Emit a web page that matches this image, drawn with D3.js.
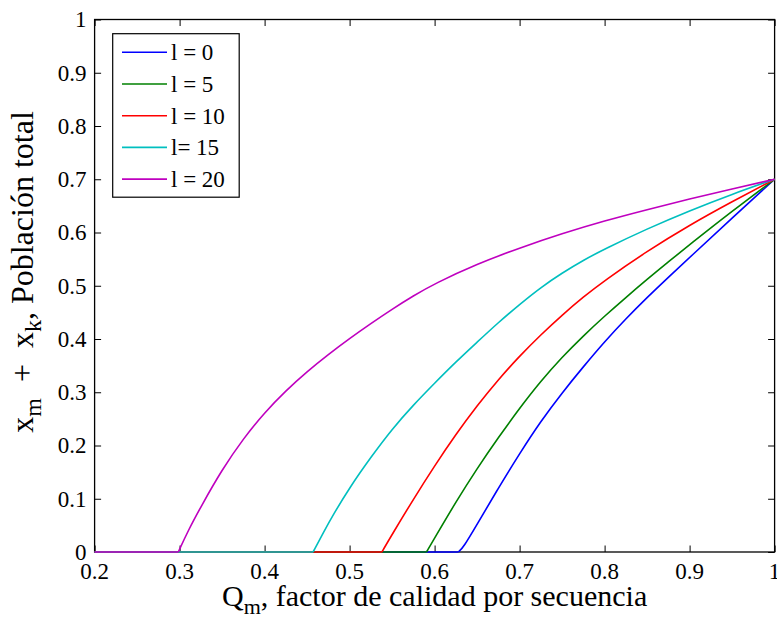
<!DOCTYPE html>
<html>
<head>
<meta charset="utf-8">
<script src="https://cdn.jsdelivr.net/npm/d3@7"></script>
<style>
  html, body { margin: 0; padding: 0; background: #fff; }
  svg { display: block; }
  svg text { font-family: "Liberation Serif", "Times New Roman", Times, serif; }
</style>
</head>
<body>
<svg id="chart" width="777" height="618"></svg>
<script>
// ---------- data ----------
const seriesNames = ["l = 0", "l = 5", "l = 10", "l= 15", "l = 20"];
const seriesColors = ["#0000ff", "#008000", "#ff0000", "#00bfbf", "#bf00bf"];

const qL0  = [0.2, 0.628, 0.634, 0.65, 0.675, 0.7, 0.725, 0.75, 0.775, 0.8, 0.825, 0.85, 0.875, 0.9, 0.95, 1.0];
const vL0  = [0,   0,     0.009, 0.052, 0.12, 0.185, 0.246, 0.299, 0.348, 0.395, 0.438, 0.478, 0.516, 0.553, 0.627, 0.7];

const qL5  = [0.2, 0.5905, 0.6, 0.625, 0.65, 0.675, 0.7, 0.725, 0.75, 0.775, 0.8, 0.825, 0.85, 0.875, 0.9, 0.95, 1.0];
const vL5  = [0,   0,      0.026, 0.094, 0.157, 0.215, 0.27, 0.321, 0.366, 0.406, 0.443, 0.478, 0.512, 0.545, 0.577, 0.640, 0.7];

const qL10 = [0.2, 0.538, 0.55, 0.575, 0.6, 0.625, 0.65, 0.675, 0.7, 0.725, 0.75, 0.775, 0.8, 0.85, 0.9, 0.95, 1.0];
const vL10 = [0,   0,     0.033, 0.099, 0.162, 0.221, 0.275, 0.324, 0.368, 0.408, 0.445, 0.479, 0.510, 0.565, 0.614, 0.658, 0.7];

const qL15 = [0.2, 0.457, 0.47, 0.48, 0.5, 0.525, 0.55, 0.575, 0.6, 0.625, 0.65, 0.675, 0.7, 0.725, 0.75, 0.775, 0.8, 0.85, 0.9, 0.95, 1.0];
const vL15 = [0,   0,     0.039, 0.068, 0.121, 0.178, 0.231, 0.276, 0.317, 0.357, 0.394, 0.431, 0.465, 0.497, 0.524, 0.548, 0.569, 0.607, 0.641, 0.672, 0.7];

const qL20 = [0.2, 0.2985, 0.31, 0.325, 0.35, 0.375, 0.4, 0.425, 0.45, 0.475, 0.5, 0.525, 0.55, 0.575, 0.6, 0.65, 0.7, 0.75, 0.8, 0.85, 0.9, 0.95, 1.0];
const vL20 = [0,   0,      0.04, 0.085, 0.155, 0.213, 0.262, 0.303, 0.339, 0.371, 0.401, 0.429, 0.456, 0.481, 0.504, 0.541, 0.571, 0.598, 0.622, 0.643, 0.663, 0.682, 0.7];

const xTicks = [0.2, 0.3, 0.4, 0.5, 0.6, 0.7, 0.8, 0.9, 1];
const xTickLabels = ["0.2", "0.3", "0.4", "0.5", "0.6", "0.7", "0.8", "0.9", "1"];
const yTicks = [0, 0.1, 0.2, 0.3, 0.4, 0.5, 0.6, 0.7, 0.8, 0.9, 1];
const yTickLabels = ["0", "0.1", "0.2", "0.3", "0.4", "0.5", "0.6", "0.7", "0.8", "0.9", "1"];

const seriesQ = [qL0, qL5, qL10, qL15, qL20];
const seriesV = [vL0, vL5, vL10, vL15, vL20];

// ---------- layout ----------
const W = 777, H = 618;
const FONT = '"Liberation Serif", "Times New Roman", Times, serif';
const plot = { left: 94.6, right: 774.6, top: 19.5, bottom: 552 };

const svg = d3.select("#chart");
const x = d3.scaleLinear().domain([0.2, 1]).range([plot.left, plot.right]);
const y = d3.scaleLinear().domain([0, 1]).range([plot.bottom, plot.top]);

svg.append("rect").attr("width", W).attr("height", H).attr("fill", "#fff");

const tickLen = 6.5;

// axes (inward ticks, box on); labels drawn separately
const gx = svg.append("g").attr("transform", `translate(0,${plot.bottom})`)
  .call(d3.axisBottom(x).tickValues(xTicks).tickFormat("").tickSizeInner(-tickLen).tickSizeOuter(0));
const gxt = svg.append("g").attr("transform", `translate(0,${plot.top})`)
  .call(d3.axisTop(x).tickValues(xTicks).tickFormat("").tickSizeInner(-tickLen).tickSizeOuter(0));
const gy = svg.append("g").attr("transform", `translate(${plot.left},0)`)
  .call(d3.axisLeft(y).tickValues(yTicks).tickFormat("").tickSizeInner(-tickLen).tickSizeOuter(0));
const gyr = svg.append("g").attr("transform", `translate(${plot.right},0)`)
  .call(d3.axisRight(y).tickValues(yTicks).tickFormat("").tickSizeInner(-tickLen).tickSizeOuter(0));

[gx, gxt, gy, gyr].forEach(g => {
  g.select(".domain").remove();
  g.selectAll(".tick text").remove();
  g.selectAll(".tick line").attr("stroke", "#000").attr("stroke-width", 1);
});

const gTickLab = svg.append("g");
gTickLab.selectAll("text.xt").data(xTicks).join("text")
  .attr("class", "xt")
  .attr("x", d => x(d)).attr("y", plot.bottom + 27)
  .attr("text-anchor", "middle")
  .attr("font-family", FONT).attr("font-size", 23).attr("fill", "#000")
  .text((d, i) => xTickLabels[i]);
gTickLab.selectAll("text.yt").data(yTicks).join("text")
  .attr("class", "yt")
  .attr("x", plot.left - 8).attr("y", d => y(d) + 7.8)
  .attr("text-anchor", "end")
  .attr("font-family", FONT).attr("font-size", 23).attr("fill", "#000")
  .text((d, i) => yTickLabels[i]);

svg.append("rect")
  .attr("x", plot.left).attr("y", plot.top)
  .attr("width", plot.right - plot.left).attr("height", plot.bottom - plot.top)
  .attr("fill", "none").attr("stroke", "#000").attr("stroke-width", 1.3);

// ---------- series ----------
// flat zero part drawn straight, rising part as a smooth spline starting at the threshold
const flatLine = d3.line().x(d => x(d[0])).y(d => y(d[1]));
const riseLine = d3.line().x(d => x(d[0])).y(d => y(d[1])).curve(d3.curveBasis);
const gLines = svg.append("g");
seriesQ.forEach((qs, i) => {
  const pts = qs.map((q, j) => [q, seriesV[i][j]]);
  const flat = pts.slice(0, 2);
  const rise = pts.slice(1);
  const g = gLines.append("g")
    .attr("fill", "none")
    .attr("stroke", seriesColors[i])
    .attr("stroke-width", 1.6)
    .attr("stroke-linejoin", "round");
  g.append("path").attr("d", flatLine(flat));
  g.append("path").attr("d", riseLine(rise));
});

// ---------- legend ----------
const lg = { x: 112.7, y: 33.7, w: 126.5, h: 163.5, row0: 52.3, rowStep: 31.7 };
const gl = svg.append("g");
gl.append("rect").attr("x", lg.x).attr("y", lg.y).attr("width", lg.w).attr("height", lg.h)
  .attr("fill", "#fff").attr("stroke", "#000").attr("stroke-width", 1.2);
seriesNames.forEach((name, i) => {
  const yy = lg.row0 + i * lg.rowStep;
  gl.append("line").attr("x1", 122).attr("x2", 167).attr("y1", yy).attr("y2", yy)
    .attr("stroke", seriesColors[i]).attr("stroke-width", 1.6);
  gl.append("text").attr("x", 171).attr("y", yy + 8)
    .attr("font-family", FONT).attr("font-size", 23).attr("fill", "#000").text(name);
});

// ---------- axis labels ----------
const xl = svg.append("text").attr("x", (plot.left + plot.right) / 2).attr("y", 606)
  .attr("text-anchor", "middle").attr("font-family", FONT).attr("font-size", 30);
xl.append("tspan").text("Q");
xl.append("tspan").attr("font-size", 22).attr("dy", 8).text("m");
xl.append("tspan").attr("dy", -8).text(", factor de calidad por secuencia");

const yl = svg.append("text").attr("transform", `translate(33,272) rotate(-90)`)
  .attr("text-anchor", "middle").attr("font-family", FONT).attr("font-size", 32);
yl.append("tspan").text("x");
yl.append("tspan").attr("font-size", 24).attr("dy", 8).text("m");
yl.append("tspan").attr("dy", -8).text("\u2002+\u2002x");
yl.append("tspan").attr("font-size", 24).attr("dy", 8).text("k");
yl.append("tspan").attr("dy", -8).text(", Población total");
</script>
</body>
</html>
